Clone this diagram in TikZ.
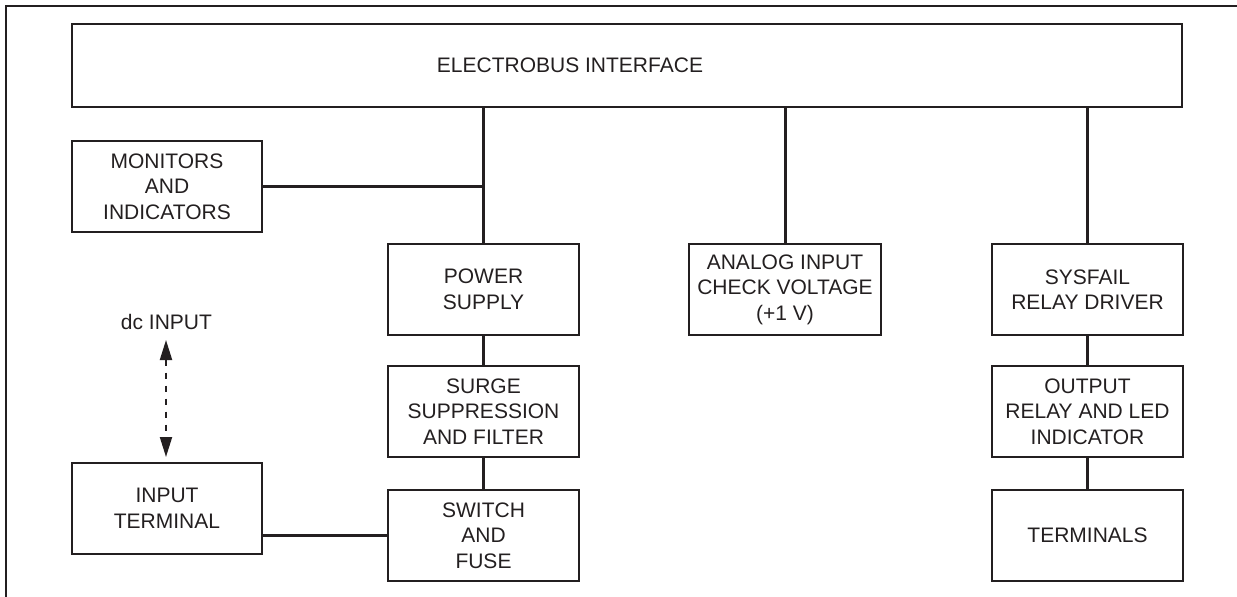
\documentclass[tikz,border=0pt]{standalone}
\usepackage{fontspec}
\setmainfont{Liberation Sans}
\usetikzlibrary{arrows.meta}
\definecolor{ink}{HTML}{231F20}
\begin{document}
\begin{tikzpicture}[x=1pt,y=-1pt,
  txt/.style={text=ink, inner sep=0pt, align=center, font=\fontsize{21}{25.5}\selectfont},
  blk/.style={txt, draw=ink, line width=1.4pt, minimum width=191pt, minimum height=91pt},
  wire/.style={draw=ink, line width=3pt},
  dcarrow/.style={draw=ink, line width=2pt, dash pattern=on 6pt off 7pt,
    {Triangle[length=20pt,width=12pt]}-{Triangle[length=20pt,width=12pt]}}
  ]
\useasboundingbox (0,0) rectangle (1237,597);
% outer frame
\draw[ink, line width=1.5pt] (6,600) -- (6,6) -- (1240,6);
% boxes
\node[blk, minimum width=1110pt, minimum height=83pt] (bus) at (627,65.5) {};
\node[txt] (bustext) at (570,65.5) {ELECTROBUS INTERFACE};
\node[blk, minimum width=190pt] (mon) at (167,186.5) {MONITORS\\AND\\INDICATORS};
\node[blk, minimum width=190pt] (it) at (167,508.5) {INPUT\\TERMINAL};
\node[blk] (pow) at (483.5,289.5) {POWER\\SUPPLY};
\node[blk] (sur) at (483.5,411.5) {SURGE\\SUPPRESSION\\AND FILTER};
\node[blk] (sw) at (483.5,535.5) {SWITCH\\AND\\FUSE};
\node[blk, minimum width=192pt] (ana) at (785,289.5) {ANALOG INPUT\\CHECK VOLTAGE\\(+1 V)};
\node[blk] (sys) at (1087.5,289.5) {SYSFAIL\\RELAY DRIVER};
\node[blk] (out) at (1087.5,411.5) {OUTPUT\\RELAY AND LED\\INDICATOR};
\node[blk] (ter) at (1087.5,535.5) {TERMINALS};
\node[txt] (dc) at (166.5,321.5) {dc INPUT};
% connectors
\draw[wire] (bus.south -| pow.north) -- (pow.north);
\coordinate (jmon) at (pow.north |- mon.east);
\draw[wire] (mon.east) -- (jmon);
\draw[wire] (bus.south -| ana.north) -- (ana.north);
\draw[wire] (bus.south -| sys.north) -- (sys.north);
\draw[wire] (pow.south) -- (sur.north);
\draw[wire] (sur.south) -- (sw.north);
\draw[wire] (sys.south) -- (out.north);
\draw[wire] (out.south) -- (ter.north);
\draw[wire] (sw.west) -- (sw.west -| it.east);
\coordinate (dctop) at (166,340);
\coordinate (dcbot) at (166,457);
\draw[dcarrow] (dctop) -- (dcbot);
\end{tikzpicture}
\end{document}
